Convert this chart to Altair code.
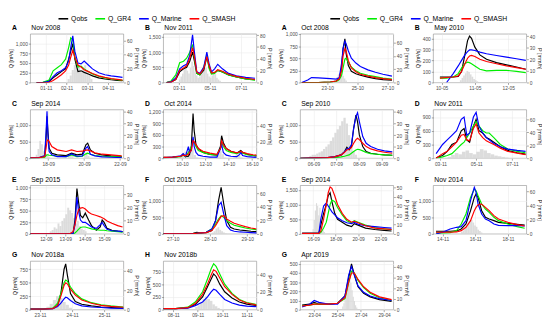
import altair as alt
import pandas as pd

SERIES = ["Qobs", "Q_GR4", "Q_Marine", "Q_SMASH"]
COLORS = ["#000000", "#00ee00", "#0000ff", "#ff0000"]
FONT = "Liberation Sans"

# ---------------- left group ----------------
LA = dict(letter="A", title="Nov 2008", xmax=4.5, xticks=[0.75, 1.75, 2.75, 3.75],
          xlabels=["01-11", "02-11", "03-11", "04-11"],
          qmax=1250, qticks=[0, 250, 500, 750, 1000], pmax=70, pticks=[0, 20, 40, 60],
          t=[0.3, 0.6, 0.9, 1.1, 1.3, 1.5, 1.7, 1.85, 1.95, 2.05, 2.15, 2.3, 2.45, 2.6, 2.8, 3.0, 3.3, 3.6, 3.9, 4.2, 4.45],
          obs=[0, 0, 20, 120, 200, 280, 350, 600, 800, 1000, 600, 280, 300, 260, 220, 170, 120, 90, 70, 55, 50],
          gr4=[0, 5, 60, 300, 380, 460, 600, 900, 1150, 1100, 650, 400, 420, 350, 280, 220, 160, 120, 90, 70, 55],
          mar=[0, 0, 30, 150, 250, 300, 380, 550, 900, 1200, 800, 500, 480, 550, 450, 350, 250, 200, 170, 150, 130],
          sma=[0, 0, 0, 50, 120, 200, 300, 450, 650, 830, 650, 450, 400, 330, 280, 230, 170, 130, 100, 80, 60],
          p0=1.8, pstep=0.1, pv=[5, 10, 18, 25, 28, 22, 15, 20, 25, 18, 10, 5])

LB = dict(letter="B", title="Nov 2011", xmax=6, xticks=[1, 3, 5], xlabels=["03-11", "05-11", "07-11"],
          qmax=1600, qticks=[0, 500, 1000, 1500], pmax=82, pticks=[0, 20, 40, 60, 80],
          t=[0.2, 0.5, 0.8, 1.05, 1.3, 1.5, 1.7, 1.88, 2.0, 2.15, 2.35, 2.6, 2.8, 2.95, 3.1, 3.3, 3.5, 3.8, 4.2, 4.7, 5.3, 5.9],
          obs=[0, 20, 100, 350, 450, 500, 700, 1000, 700, 300, 250, 400, 850, 500, 300, 320, 400, 350, 250, 180, 120, 90],
          gr4=[0, 50, 250, 650, 700, 800, 1000, 1250, 800, 300, 250, 500, 900, 450, 280, 300, 400, 350, 250, 180, 120, 80],
          mar=[0, 20, 150, 450, 550, 600, 900, 1570, 1000, 350, 300, 500, 1000, 600, 350, 450, 600, 450, 300, 220, 170, 140],
          sma=[0, 10, 100, 400, 480, 550, 800, 1150, 850, 350, 280, 450, 850, 550, 320, 330, 420, 370, 270, 200, 140, 100],
          p0=1.0, pstep=0.1, pv=[5, 10, 15, 25, 30, 20, 15, 25, 35, 28, 18, 12, 8, 10, 15, 22, 30, 25, 15, 10, 8, 12, 18, 14, 8, 5, 3])

LC = dict(letter="C", title="Sep 2014", xmax=5.2, xticks=[1, 3, 5], xlabels=["18-09", "20-09", "22-09"],
          qmax=1450, qticks=[0, 500, 1000], pmax=42, pticks=[0, 10, 20, 30, 40],
          t=[0.0, 0.5, 0.8, 0.88, 0.93, 0.98, 1.05, 1.2, 1.5, 2.0, 2.3, 2.6, 2.9, 3.1, 3.2, 3.35, 3.6, 4.0, 4.5, 5.1],
          obs=[10, 20, 50, 600, 1250, 800, 300, 150, 100, 80, 150, 100, 120, 400, 450, 250, 150, 100, 70, 50],
          gr4=[5, 10, 30, 80, 100, 100, 90, 80, 60, 50, 100, 50, 60, 130, 150, 120, 80, 60, 50, 40],
          mar=[10, 20, 80, 800, 1400, 700, 200, 100, 50, 50, 130, 60, 70, 300, 350, 120, 70, 40, 30, 20],
          sma=[10, 20, 50, 300, 500, 550, 500, 350, 250, 200, 250, 200, 210, 240, 250, 220, 160, 120, 100, 70],
          p0=0.3, pstep=0.1, pv=[3, 8, 15, 12, 6, 4, 2, 1, 0, 0, 0, 0, 0, 0, 0, 0, 0, 0, 2, 3, 2, 0, 0, 0, 0, 0, 0, 3, 5, 2])

LD = dict(letter="D", title="Oct 2014", xmax=8, xticks=[1.6, 3.6, 5.6, 7.6],
          xlabels=["10-10", "12-10", "14-10", "16-10"],
          qmax=1250, qticks=[0, 300, 600, 900, 1200], pmax=60, pticks=[0, 20, 40],
          t=[0.0, 0.8, 1.5, 1.7, 1.9, 2.15, 2.25, 2.4, 2.55, 2.65, 2.8, 3.0, 3.4, 4.0, 4.6, 4.9, 5.0, 5.15, 5.4, 5.8, 6.3, 6.55, 6.65, 6.8, 7.2, 7.7, 8.0],
          obs=[20, 30, 50, 100, 40, 50, 100, 300, 1150, 700, 350, 250, 150, 100, 80, 300, 580, 400, 250, 180, 130, 180, 200, 150, 100, 70, 60],
          gr4=[10, 20, 40, 80, 40, 150, 200, 300, 450, 400, 300, 200, 150, 100, 80, 250, 400, 300, 200, 150, 120, 150, 170, 130, 90, 70, 60],
          mar=[10, 30, 60, 120, 50, 300, 150, 200, 550, 300, 150, 80, 50, 30, 30, 250, 350, 150, 80, 50, 40, 100, 150, 70, 40, 30, 20],
          sma=[20, 30, 50, 80, 60, 100, 150, 200, 450, 420, 350, 250, 180, 130, 100, 250, 450, 350, 250, 180, 140, 160, 180, 150, 120, 90, 80],
          p0=1.4, pstep=0.2, pv=[3, 5, 8, 6, 10, 12, 4, 1, 0, 0, 0, 0, 0, 0, 0, 3, 6, 9, 5, 1, 0, 0, 0, 2, 5, 4, 1])

LE = dict(letter="E", title="Sep 2015", xmax=4.8, xticks=[0.8, 1.8, 2.8, 3.8],
          xlabels=["12-09", "13-09", "14-09", "15-09"],
          qmax=1050, qticks=[0, 250, 500, 750, 1000], pmax=37, pticks=[0, 10, 20, 30],
          t=[0, 1.0, 2.0, 2.2, 2.3, 2.4, 2.48, 2.58, 2.7, 2.83, 3.0, 3.15, 3.4, 3.6, 3.7, 3.8, 3.95, 4.2, 4.5, 4.75],
          obs=[0, 0, 0, 10, 300, 980, 700, 400, 350, 450, 300, 180, 80, 150, 300, 250, 120, 80, 60, 50],
          gr4=[0, 0, 0, 5, 20, 60, 100, 140, 150, 150, 130, 110, 90, 80, 80, 80, 70, 60, 50, 40],
          mar=[0, 0, 0, 10, 200, 800, 500, 300, 250, 250, 200, 150, 120, 200, 250, 180, 100, 70, 60, 50],
          sma=[0, 0, 0, 50, 200, 400, 520, 560, 570, 540, 470, 430, 400, 370, 350, 330, 280, 230, 180, 150],
          p0=1.0, pstep=0.1, pv=[2, 3, 5, 4, 8, 6, 10, 12, 15, 20, 18, 16, 12, 8, 10, 6, 4, 3, 2])

LF = dict(letter="F", title="Oct 2015", xmax=2.5, xticks=[0.25, 1.25, 2.25], xlabels=["27-10", "28-10", "29-10"],
          qmax=1460, qticks=[0, 500, 1000], pmax=72, pticks=[0, 20, 40, 60],
          t=[0, 0.5, 0.8, 0.9, 1.0, 1.15, 1.3, 1.4, 1.48, 1.55, 1.62, 1.7, 1.8, 1.9, 2.05, 2.2, 2.35, 2.5],
          obs=[0, 0, 20, 50, 30, 40, 100, 400, 1000, 1400, 900, 400, 200, 150, 120, 100, 80, 70],
          gr4=[0, 0, 10, 20, 30, 50, 150, 300, 450, 550, 500, 400, 320, 260, 220, 180, 150, 130],
          mar=[0, 0, 10, 20, 30, 50, 150, 400, 850, 950, 600, 250, 120, 80, 60, 50, 40, 30],
          sma=[0, 0, 10, 20, 30, 40, 100, 250, 400, 530, 550, 450, 380, 320, 270, 220, 180, 150],
          p0=1.3, pstep=0.05, pv=[2, 4, 8, 10, 6, 4, 2, 1])

LG = dict(letter="G", title="Nov 2018a", xmax=2.9, xticks=[0.3, 1.3, 2.3], xlabels=["23-11", "24-11", "25-11"],
          qmax=900, qticks=[0, 250, 500, 750], pmax=50, pticks=[0, 20, 40],
          t=[0, 0.4, 0.7, 0.85, 0.95, 1.05, 1.1, 1.15, 1.25, 1.4, 1.6, 1.9, 2.2, 2.5, 2.9],
          obs=[10, 10, 20, 80, 300, 750, 850, 650, 300, 150, 100, 70, 50, 40, 30],
          gr4=[10, 10, 30, 120, 300, 500, 550, 530, 420, 300, 200, 130, 90, 70, 50],
          mar=[10, 10, 20, 60, 120, 200, 230, 220, 170, 110, 70, 50, 40, 30, 25],
          sma=[10, 10, 20, 80, 250, 450, 500, 480, 380, 270, 180, 120, 80, 60, 45],
          p0=0.5, pstep=0.1, pv=[3, 6, 10, 14, 12, 8, 5, 2])

LH = dict(letter="H", title="Nov 2018b", xmax=3.8, xticks=[0.4, 1.4, 2.4, 3.4],
          xlabels=["08-11", "09-11", "10-11", "11-11"],
          qmax=950, qticks=[0, 250, 500, 750], pmax=55, pticks=[0, 20, 40],
          t=[0, 0.5, 1.0, 1.3, 1.6, 1.8, 1.95, 2.05, 2.15, 2.3, 2.5, 2.8, 3.1, 3.4, 3.8],
          obs=[20, 20, 40, 100, 250, 450, 600, 700, 650, 500, 350, 230, 150, 110, 80],
          gr4=[20, 20, 50, 150, 350, 600, 800, 900, 850, 700, 500, 320, 200, 140, 100],
          mar=[20, 20, 30, 80, 150, 250, 350, 400, 380, 300, 200, 130, 90, 70, 60],
          sma=[20, 20, 40, 120, 300, 500, 680, 780, 750, 620, 450, 300, 190, 130, 90],
          p0=1.3, pstep=0.1, pv=[3, 5, 8, 12, 15, 12, 10, 6, 4, 2])

# ---------------- right group ----------------
RA = dict(letter="A", title="Oct 2008", xmax=6.2, xticks=[1.8, 3.8, 5.8], xlabels=["23-10", "25-10", "27-10"],
          qmax=1000, qticks=[0, 250, 500, 750, 1000], pmax=73, pticks=[0, 20, 40, 60],
          t=[0.1, 0.5, 0.75, 1.2, 2.0, 2.4, 2.6, 2.75, 2.85, 2.97, 3.05, 3.2, 3.4, 3.7, 4.0, 4.5, 5.0, 5.5, 6.1],
          obs=[0, 0, 0, 0, 10, 30, 80, 300, 700, 900, 600, 350, 230, 180, 150, 110, 80, 60, 50],
          gr4=[0, 0, 0, 0, 10, 20, 60, 150, 300, 480, 500, 420, 320, 240, 190, 150, 120, 90, 70],
          mar=[0, 50, 100, 95, 80, 70, 100, 400, 700, 850, 800, 650, 500, 400, 330, 260, 210, 170, 130],
          sma=[0, 0, 0, 0, 10, 30, 80, 250, 550, 700, 650, 450, 300, 220, 170, 130, 100, 80, 60],
          p0=2.3, pstep=0.1, pv=[3, 8, 12, 15, 18, 10, 6, 3])

RB = dict(letter="B", title="May 2010", xmax=2.8, xticks=[0.25, 1.25, 2.25], xlabels=["10-05", "11-05", "12-05"],
          qmax=440, qticks=[0, 100, 200, 300, 400], pmax=42, pticks=[0, 10, 20, 30, 40],
          t=[0.2, 0.4, 0.6, 0.75, 0.85, 0.95, 1.03, 1.09, 1.15, 1.25, 1.4, 1.6, 1.9, 2.2, 2.5, 2.78],
          obs=[50, 50, 50, 55, 100, 250, 380, 420, 400, 320, 250, 210, 180, 160, 140, 120],
          gr4=[40, 40, 50, 80, 130, 170, 185, 180, 170, 150, 120, 105, 110, 110, 100, 90],
          mar=[None, 0, 80, 150, 200, 250, 280, 295, 295, 290, 275, 260, 245, 230, 215, 200],
          sma=[40, 45, 50, 60, 100, 170, 220, 240, 245, 235, 210, 190, 170, 150, 135, 120],
          p0=0.8, pstep=0.05, pv=[2, 4, 6, 8, 10, 9, 7, 5, 3, 2, 1])

RC = dict(letter="C", title="Sep 2010", xmax=4.1, xticks=[0.58, 1.58, 2.58, 3.58],
          xlabels=["06-09", "07-09", "08-09", "09-09"],
          qmax=1460, qticks=[0, 500, 1000], pmax=42, pticks=[0, 10, 20, 30, 40],
          t=[0, 0.8, 1.2, 1.5, 1.8, 1.95, 2.05, 2.15, 2.25, 2.35, 2.45, 2.52, 2.6, 2.75, 2.9, 3.1, 3.4, 3.7, 4.05],
          obs=[0, 10, 20, 40, 100, 200, 330, 250, 350, 900, 1300, 1100, 700, 350, 200, 150, 120, 100, 90],
          gr4=[0, 5, 10, 20, 40, 60, 80, 100, 150, 200, 250, 270, 260, 220, 170, 140, 120, 100, 90],
          mar=[0, 10, 20, 40, 100, 200, 280, 300, 400, 900, 1250, 1370, 1100, 650, 450, 350, 270, 220, 190],
          sma=[0, 10, 20, 40, 100, 180, 250, 270, 320, 450, 560, 600, 560, 450, 350, 280, 220, 180, 150],
          p0=0.4, pstep=0.1, pv=[2, 3, 3, 4, 5, 6, 8, 10, 12, 15, 18, 22, 25, 28, 32, 35, 30, 20, 12, 6, 3])

RD = dict(letter="D", title="Nov 2011", xmax=5.2, xticks=[0.4, 2.4, 4.4], xlabels=["03-11", "05-11", "07-11"],
          qmax=1060, qticks=[0, 300, 600, 900], pmax=75, pticks=[0, 20, 40, 60],
          t=[0.16, 0.52, 0.78, 1.04, 1.3, 1.56, 1.72, 1.87, 2.03, 2.24, 2.39, 2.55, 2.76, 2.96, 3.12, 3.38, 3.74, 4.16, 4.68, 5.15],
          obs=[10, 60, 150, 300, 350, 600, 650, 400, 350, 700, 850, 600, 550, 450, 420, 350, 250, 170, 120, 90],
          gr4=[0, 30, 60, 100, 200, 300, 350, 450, 550, 700, 800, 700, 600, 550, 550, 450, 300, 200, 150, 120],
          mar=[100, 300, 400, 500, 600, 850, 900, 500, 550, 900, 1000, 700, 550, 450, 400, 320, 250, 200, 170, 150],
          sma=[0, 100, 150, 250, 350, 500, 520, 400, 380, 650, 750, 550, 450, 380, 350, 300, 220, 150, 110, 80],
          p0=0.8, pstep=0.2, pv=[2, 5, 8, 6, 10, 12, 8, 6, 10, 14, 12, 8, 6, 4, 3, 2, 1])

RE = dict(letter="E", title="Sep 2014", xmax=8.3, xticks=[1.15, 3.15, 5.15, 7.15],
          xlabels=["16-09", "18-09", "20-09", "22-09"],
          qmax=1650, qticks=[0, 500, 1000, 1500], pmax=52, pticks=[0, 10, 20, 30, 40, 50],
          t=[0.17, 0.83, 1.41, 1.66, 1.83, 2.08, 2.32, 2.49, 2.66, 2.82, 3.07, 3.32, 3.74, 4.15, 4.57, 4.81, 5.15, 5.81, 6.64, 7.47, 8.13],
          obs=[20, 20, 20, 30, 300, 700, 1000, 1300, 1400, 1100, 700, 500, 400, 300, 250, 350, 300, 200, 150, 120, 100],
          gr4=[20, 20, 20, 20, 50, 200, 400, 700, 1000, 1150, 1100, 900, 650, 450, 380, 450, 400, 300, 220, 170, 150],
          mar=[20, 20, 20, 30, 500, 950, 1050, 950, 850, 750, 650, 550, 450, 380, 350, 400, 330, 280, 250, 220, 200],
          sma=[20, 20, 20, 20, 100, 500, 1000, 1400, 1600, 1550, 1300, 1000, 700, 500, 400, 430, 380, 280, 200, 170, 150],
          p0=1.1, pstep=0.1, pv=[5, 15, 25, 33, 30, 20, 28, 15, 8, 4, 2])

RF = dict(letter="F", title="Nov 2014", xmax=5.7, xticks=[0.57, 2.57, 4.57], xlabels=["14-11", "16-11", "18-11"],
          qmax=1460, qticks=[0, 500, 1000], pmax=68, pticks=[0, 20, 40, 60],
          t=[0.17, 0.57, 1.03, 1.43, 1.71, 2.0, 2.28, 2.51, 2.62, 2.74, 2.96, 3.19, 3.42, 3.71, 3.99, 4.56, 5.13, 5.59],
          obs=[80, 80, 80, 90, 150, 300, 700, 1100, 1200, 1100, 700, 500, 450, 400, 350, 320, 290, 270],
          gr4=[30, 30, 40, 100, 300, 600, 1100, 1350, 1300, 1150, 900, 750, 650, 500, 400, 300, 220, 170],
          mar=[0, 50, 150, 200, 220, 400, 1000, 1400, 1250, 900, 600, 450, 400, 300, 260, 250, 250, 240],
          sma=[50, 50, 50, 60, 100, 200, 400, 700, 800, 880, 900, 800, 700, 550, 450, 350, 280, 240],
          p0=1.7, pstep=0.1, pv=[3, 5, 8, 12, 15, 18, 20, 16, 12, 10, 6, 4, 2])

RG = dict(letter="G", title="Apr 2019", xmax=8, xticks=[1.2, 3.2, 5.2, 7.2],
          xlabels=["23-04", "25-04", "27-04", "29-04"],
          qmax=530, qticks=[0, 100, 200, 300, 400, 500], pmax=45, pticks=[0, 10, 20, 30, 40],
          t=[0.16, 0.8, 1.2, 1.6, 2.4, 3.2, 3.84, 4.16, 4.4, 4.64, 4.96, 5.44, 6.0, 6.8, 7.84],
          obs=[50, 60, 80, 60, 60, 70, 150, 350, 500, 380, 250, 180, 140, 110, 90],
          gr4=[40, 50, 60, 60, 60, 70, 120, 300, 420, 400, 320, 240, 180, 130, 100],
          mar=[30, 60, 100, 80, 60, 60, 150, 380, 470, 380, 260, 190, 150, 120, 100],
          sma=[40, 50, 60, 60, 60, 70, 130, 300, 400, 400, 330, 250, 190, 140, 110],
          p0=3.6, pstep=0.1, pv=[3, 6, 10, 15, 22, 28, 30, 25, 18, 12, 8, 4, 2])

LEFT = [LA, LB, LC, LD, LE, LF, LG, LH]
RIGHT = [RA, RB, RC, RD, RE, RF, RG]

W, H = 96, 50


def label_expr(vals, labs):
    e = "''"
    for v, l in zip(reversed(vals), reversed(labs)):
        e = f"datum.value == {v} ? '{l}' : ({e})"
    return e


def panel(p, legend_x):
    rows = []
    for name, key in zip(SERIES, ["obs", "gr4", "mar", "sma"]):
        for t, q in zip(p["t"], p[key]):
            if q is not None:
                rows.append({"t": t, "Q": q, "series": name})
    ldf = pd.DataFrame(rows)
    pt = [p["p0"] + i * p["pstep"] for i in range(len(p["pv"]))]
    pdf = pd.DataFrame({"t0": pt, "t1": [v + p["pstep"] for v in pt], "P": p["pv"],
                        "base": [0] * len(pt)})

    xsc = alt.Scale(domain=[0, p["xmax"]], nice=False, zero=False)
    xax = alt.Axis(values=p["xticks"], labelExpr=label_expr(p["xticks"], p["xlabels"]),
                   title=None, grid=True)

    bars = alt.Chart(pdf).mark_rect(color="#d6d6d6", opacity=0.85).encode(
        x=alt.X("t0:Q", scale=xsc, axis=xax),
        x2="t1:Q",
        y=alt.Y("P:Q", scale=alt.Scale(domain=[0, p["pmax"]], nice=False),
                axis=alt.Axis(orient="right", values=p["pticks"], title="P [mm/h]", grid=False)),
        y2="base:Q",
    )
    lines = alt.Chart(ldf).mark_line(strokeWidth=1.2, clip=True).encode(
        x=alt.X("t:Q", scale=xsc, axis=xax),
        y=alt.Y("Q:Q", scale=alt.Scale(domain=[0, p["qmax"]], nice=False),
                axis=alt.Axis(values=p["qticks"], title="Q [m³/s]", grid=True)),
        color=alt.Color("series:N", sort=SERIES,
                        scale=alt.Scale(domain=SERIES, range=COLORS),
                        legend=alt.Legend(orient="none", legendX=legend_x, legendY=-22,
                                          direction="horizontal", title=None,
                                          symbolType="stroke", symbolStrokeWidth=1.6,
                                          symbolSize=100, labelFontSize=7, labelFont=FONT,
                                          columnPadding=4, labelOffset=2)),
        detail="series:N",
    )
    head = pd.DataFrame({"letter": [p["letter"]], "title": [p["title"]]})
    letter = alt.Chart(head).mark_text(
        fontWeight="bold", fontSize=7, font=FONT, align="left", baseline="bottom"
    ).encode(text="letter:N", x=alt.value(-19), y=alt.value(-3))
    title = alt.Chart(head).mark_text(
        fontSize=7, font=FONT, align="left", baseline="bottom"
    ).encode(text="title:N", x=alt.value(1), y=alt.value(-3))

    return alt.layer(bars, lines, letter, title).resolve_scale(y="independent").properties(
        width=W, height=H)


left = alt.concat(*[panel(p, 28) for p in LEFT], columns=2, spacing={"row": 8, "column": 2})
right = alt.concat(*[panel(p, 30) for p in RIGHT], columns=2, spacing={"row": 8, "column": 2})

chart = alt.hconcat(left, right, spacing=6).resolve_scale(color="independent").properties(
    padding={"left": 0, "top": 0, "right": 0, "bottom": 0}
).configure_axis(
    labelFontSize=5, labelFont=FONT, labelColor="#4d4d4d", labelPadding=1,
    titleFontSize=5.5, titleFont=FONT, titleFontWeight="normal", titleColor="#000000",
    titlePadding=2, tickSize=2, tickColor="#4d4d4d", tickWidth=0.5,
    domain=False, gridColor="#ebebeb", gridWidth=0.6,
).configure_view(stroke="#8c8c8c", strokeWidth=0.6).configure_concat(spacing=4)

chart.save("out.html", embed_options={"renderer": "svg", "actions": False})
